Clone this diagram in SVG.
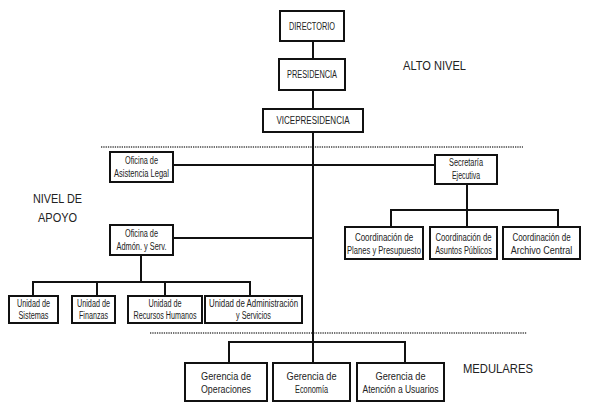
<svg xmlns="http://www.w3.org/2000/svg" width="596" height="414" viewBox="0 0 596 414">
<style>
.box{fill:#fff;stroke:#111;stroke-width:2}
.ln{fill:none;stroke:#111;stroke-width:2}
.dot{fill:none;stroke:#444;stroke-width:1.3;stroke-dasharray:1.3 1}
text{font-family:"Liberation Sans",Arial,sans-serif;fill:#222;text-anchor:middle}
.t{font-size:10px}
.lbl{font-size:13.5px;text-anchor:start}
</style>
<rect width="596" height="414" fill="#fff"/>
<g id="levels">
<line class="dot" x1="101" y1="147" x2="523" y2="147"/>
<line class="dot" x1="150" y1="333" x2="527" y2="333"/>
<text class="lbl" x="403" y="70" textLength="63" lengthAdjust="spacingAndGlyphs">ALTO NIVEL</text>
<text class="lbl" x="33" y="203" textLength="49" lengthAdjust="spacingAndGlyphs">NIVEL DE</text>
<text class="lbl" x="38" y="222" textLength="39" lengthAdjust="spacingAndGlyphs">APOYO</text>
<text class="lbl" x="463" y="373" textLength="70" lengthAdjust="spacingAndGlyphs">MEDULARES</text>
</g>
<g id="connectors">
<path class="ln" d="M313 41V59M313 90V109M313 132V342"/>
<path class="ln" d="M173 165H435"/>
<path class="ln" d="M173 238H313"/>
<path class="ln" d="M229 363V342H405V363M313 342V363"/>
<path class="ln" d="M467 184V227M391 227V210H558V227"/>
<path class="ln" d="M141 255V282M33 296V282H250V296M97 282V296M165 282V296"/>
</g>
<g id="directorio"><rect class="box" x="280" y="11" width="64" height="30"/><text class="t" x="312" y="30" textLength="46" lengthAdjust="spacingAndGlyphs">DIRECTORIO</text></g>
<g id="presidencia"><rect class="box" x="279" y="59" width="66" height="31"/><text class="t" x="312" y="78" textLength="50" lengthAdjust="spacingAndGlyphs">PRESIDENCIA</text></g>
<g id="vicepresidencia"><rect class="box" x="263" y="109" width="100" height="23"/><text class="t" x="313" y="124" textLength="73" lengthAdjust="spacingAndGlyphs">VICEPRESIDENCIA</text></g>
<g id="asistencia-legal"><rect class="box" x="110" y="152" width="63" height="30"/><text class="t" x="141.5" y="164" textLength="33" lengthAdjust="spacingAndGlyphs">Oficina de</text><text class="t" x="141.5" y="177" textLength="55" lengthAdjust="spacingAndGlyphs">Asistencia Legal</text></g>
<g id="admon"><rect class="box" x="110" y="225" width="63" height="30"/><text class="t" x="141.5" y="237" textLength="33" lengthAdjust="spacingAndGlyphs">Oficina de</text><text class="t" x="141.5" y="250" textLength="50" lengthAdjust="spacingAndGlyphs">Admón. y Serv.</text></g>
<g id="secretaria"><rect class="box" x="435" y="155" width="62" height="29"/><text class="t" x="466" y="166" textLength="34" lengthAdjust="spacingAndGlyphs">Secretaría</text><text class="t" x="466" y="178.5" textLength="28" lengthAdjust="spacingAndGlyphs">Ejecutiva</text></g>
<g id="coord-planes"><rect class="box" x="345" y="227" width="78" height="32"/><text class="t" transform="translate(384 241) scale(0.8 1)">Coordinación de</text><text class="t" transform="translate(384 254) scale(0.76 1)">Planes y Presupuesto</text></g>
<g id="coord-asuntos"><rect class="box" x="430" y="227" width="67" height="32"/><text class="t" transform="translate(463.5 241) scale(0.77 1)">Coordinación de</text><text class="t" transform="translate(463.5 254) scale(0.74 1)">Asuntos Públicos</text></g>
<g id="coord-archivo"><rect class="box" x="503" y="227" width="77" height="32"/><text class="t" transform="translate(541.5 241) scale(0.8 1)">Coordinación de</text><text class="t" transform="translate(541.5 254) scale(0.9 1)">Archivo Central</text></g>
<g id="u-sistemas"><rect class="box" x="9" y="296" width="49" height="27"/><text class="t" x="33.5" y="306.5" textLength="33" lengthAdjust="spacingAndGlyphs">Unidad de</text><text class="t" x="33.5" y="319" textLength="30" lengthAdjust="spacingAndGlyphs">Sistemas</text></g>
<g id="u-finanzas"><rect class="box" x="72" y="296" width="43" height="27"/><text class="t" x="93.5" y="306.5" textLength="33" lengthAdjust="spacingAndGlyphs">Unidad de</text><text class="t" x="93.5" y="319" textLength="29" lengthAdjust="spacingAndGlyphs">Finanzas</text></g>
<g id="u-rrhh"><rect class="box" x="128" y="296" width="74" height="27"/><text class="t" x="165" y="306.5" textLength="33" lengthAdjust="spacingAndGlyphs">Unidad de</text><text class="t" x="165" y="319" textLength="63" lengthAdjust="spacingAndGlyphs">Recursos Humanos</text></g>
<g id="u-admin"><rect class="box" x="205" y="296" width="97" height="27"/><text class="t" x="253.5" y="306.5" textLength="89" lengthAdjust="spacingAndGlyphs">Unidad de Administración</text><text class="t" x="253.5" y="319" textLength="35" lengthAdjust="spacingAndGlyphs">y Servicios</text></g>
<g id="g-operaciones"><rect class="box" x="185" y="363" width="82" height="38"/><text class="t" x="226" y="380" textLength="50" lengthAdjust="spacingAndGlyphs">Gerencia de</text><text class="t" x="226" y="393" textLength="50" lengthAdjust="spacingAndGlyphs">Operaciones</text></g>
<g id="g-economia"><rect class="box" x="273" y="363" width="77" height="38"/><text class="t" x="311.5" y="380" textLength="50" lengthAdjust="spacingAndGlyphs">Gerencia de</text><text class="t" x="311.5" y="393" textLength="33" lengthAdjust="spacingAndGlyphs">Economía</text></g>
<g id="g-atencion"><rect class="box" x="357" y="363" width="87" height="38"/><text class="t" x="400.5" y="380" textLength="50" lengthAdjust="spacingAndGlyphs">Gerencia de</text><text class="t" x="400.5" y="393" textLength="76" lengthAdjust="spacingAndGlyphs">Atención a Usuarios</text></g>
</svg>
